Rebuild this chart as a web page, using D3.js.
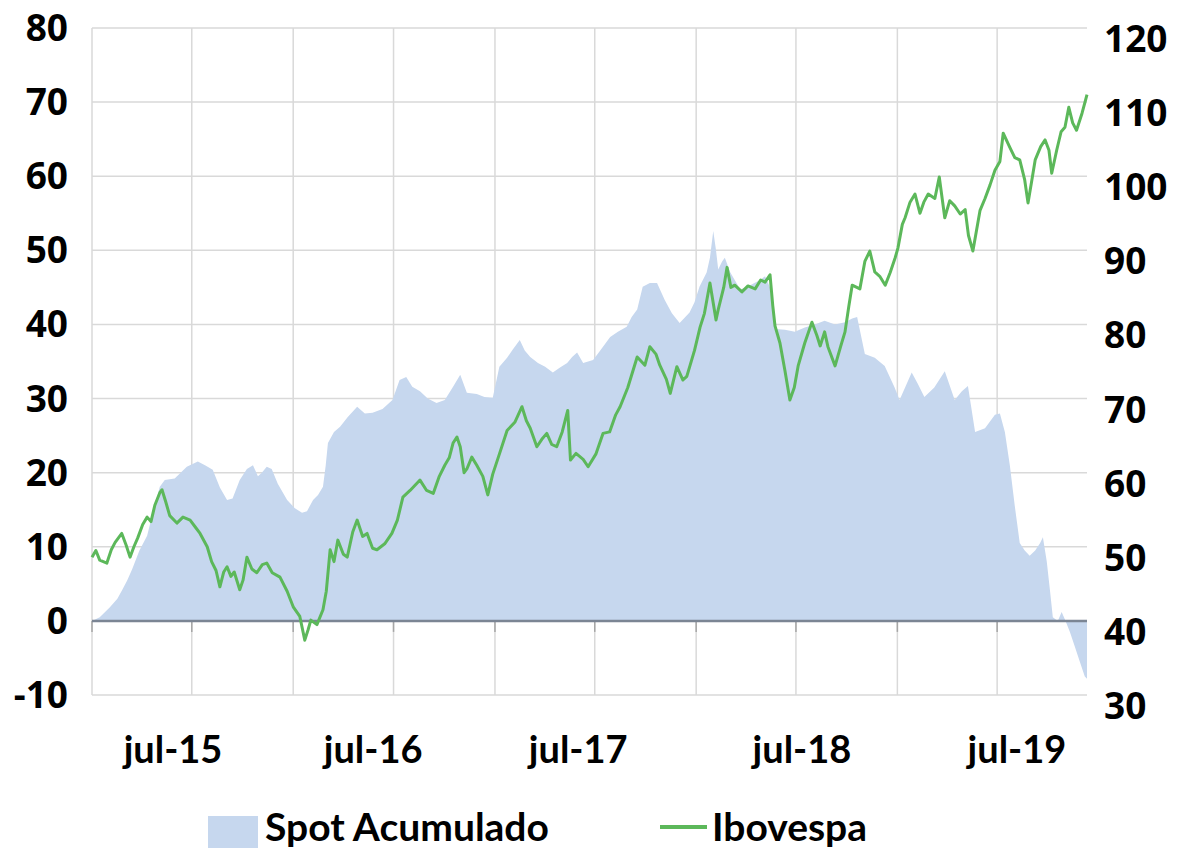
<!DOCTYPE html>
<html><head><meta charset="utf-8">
<script src="https://cdn.jsdelivr.net/npm/d3@7"></script>
<style>body{margin:0;background:#fff;} svg{display:block}</style>
</head><body><svg id="c" width="1178" height="853"></svg>
<script>
const seriesNames = ["Spot Acumulado", "Ibovespa"];
const leftTicks = [80, 70, 60, 50, 40, 30, 20, 10, 0, -10];
const rightTicks = [120, 110, 100, 90, 80, 70, 60, 50, 40, 30];
const xLabels = ["jul-15", "jul-16", "jul-17", "jul-18", "jul-19"];
const xLabelDates = ["2015-05-28", "2016-05-25", "2017-06-01", "2018-07-12", "2019-08-06"];

const iboDates = ["2015-01-01","2015-01-08","2015-01-15","2015-01-28","2015-02-05","2015-02-12","2015-02-24","2015-03-04","2015-03-11","2015-03-18","2015-03-25","2015-04-03","2015-04-11","2015-04-18","2015-04-25","2015-05-04","2015-05-08","2015-05-15","2015-05-22","2015-06-04","2015-06-15","2015-06-28","2015-07-08","2015-07-16","2015-07-29","2015-08-06","2015-08-14","2015-08-21","2015-08-28","2015-09-03","2015-09-10","2015-09-16","2015-09-26","2015-10-02","2015-10-09","2015-10-18","2015-10-27","2015-11-06","2015-11-14","2015-11-24","2015-12-08","2015-12-21",
"2016-01-01","2016-01-13","2016-01-22","2016-01-28","2016-02-02","2016-02-13","2016-02-24","2016-03-01","2016-03-08","2016-03-15","2016-03-22","2016-04-01","2016-04-08","2016-04-18","2016-04-26","2016-05-06","2016-05-14","2016-05-24","2016-06-01","2016-06-15","2016-06-28","2016-07-08","2016-07-18","2016-07-31","2016-08-18","2016-08-30","2016-09-11","2016-09-22","2016-10-02","2016-10-10","2016-10-17","2016-10-24","2016-10-30","2016-11-06","2016-11-11","2016-11-20","2016-11-29","2016-12-10","2016-12-19","2016-12-28",
"2017-01-09","2017-01-23","2017-02-06","2017-02-19","2017-02-27","2017-03-06","2017-03-18","2017-03-27","2017-04-05","2017-04-14","2017-04-23","2017-05-03","2017-05-13","2017-05-18","2017-05-28","2017-06-10","2017-06-19","2017-07-03","2017-07-16","2017-07-28","2017-08-08","2017-08-16","2017-08-30","2017-09-16","2017-09-30","2017-10-09","2017-10-20","2017-10-27","2017-11-08","2017-11-15","2017-11-27","2017-12-08","2017-12-15","2017-12-29",
"2018-01-08","2018-01-16","2018-01-26","2018-02-06","2018-02-10","2018-02-20","2018-02-26","2018-03-05","2018-03-12","2018-03-25","2018-04-05","2018-04-18","2018-04-28","2018-05-06","2018-05-15","2018-05-20","2018-05-24","2018-06-02","2018-06-11","2018-06-20","2018-06-28","2018-07-05","2018-07-17","2018-07-30","2018-08-08","2018-08-14","2018-08-22","2018-08-28","2018-09-10","2018-09-20","2018-09-28","2018-10-05","2018-10-11","2018-10-25","2018-11-03","2018-11-12","2018-11-21","2018-11-30","2018-12-10","2018-12-19","2018-12-28",
"2019-01-02","2019-01-10","2019-01-15","2019-01-24","2019-02-02","2019-02-11","2019-02-18","2019-02-26","2019-03-10","2019-03-18","2019-03-28","2019-04-06","2019-04-15","2019-04-25","2019-05-04","2019-05-10","2019-05-18","2019-05-31","2019-06-09","2019-06-18","2019-06-27","2019-07-06","2019-07-12","2019-07-24","2019-08-02","2019-08-11","2019-08-20","2019-08-26","2019-09-02","2019-09-08","2019-09-18","2019-09-26","2019-10-03","2019-10-08","2019-10-17","2019-10-25","2019-11-01","2019-11-08","2019-11-15","2019-11-22","2019-12-02","2019-12-07","2019-12-11"];
const iboValues = [48.6,49.5,48.2,47.8,49.6,50.6,51.8,50.2,48.6,50.0,51.2,53.0,54.0,53.4,55.6,57.3,57.7,56.0,54.2,53.2,54.0,53.6,52.6,51.8,50.0,48.0,46.8,44.6,46.6,47.3,46.0,46.6,44.2,45.5,48.6,47.0,46.5,47.6,47.8,46.5,45.9,44.0,
41.9,40.6,37.4,38.8,40.1,39.5,41.5,44.0,49.6,48.0,50.9,49.0,48.6,52.0,53.6,51.4,51.8,49.8,49.6,50.4,51.8,53.6,56.7,57.6,59.0,57.6,57.2,59.5,61.0,62.0,64.0,64.8,63.5,60.0,60.5,62.1,61.0,59.5,57.0,59.8,
62.5,65.7,66.8,68.9,67.0,66.0,63.5,64.5,65.3,63.8,63.5,65.5,68.4,61.7,62.6,61.8,60.8,62.5,65.3,65.5,67.8,68.9,71.5,75.6,74.5,77.0,76.0,74.5,72.6,70.7,74.3,72.5,73.0,76.5,
79.6,81.5,85.6,80.6,82.0,85.0,87.7,85.0,85.3,84.4,85.2,84.8,86.0,85.7,86.7,82.5,79.8,77.5,73.8,69.8,71.5,74.4,77.5,80.3,78.5,77.1,79.0,77.0,74.4,77.0,79.0,82.5,85.3,84.8,88.5,89.9,87.1,86.5,85.3,87.0,89.0,
90.3,93.5,94.4,96.5,97.6,95.0,96.5,97.6,97.0,99.9,94.4,96.7,96.0,94.9,95.5,92.0,89.9,95.4,97.0,98.8,100.8,102.0,105.8,103.9,102.5,102.2,99.5,96.4,99.5,102.2,104.0,104.9,103.5,100.4,103.5,106.0,106.6,109.3,107.2,106.2,108.5,109.9,111.0];

const spotDates = ["2015-01-01","2015-01-15","2015-02-02","2015-02-16","2015-02-25","2015-03-06","2015-03-15","2015-03-28","2015-04-11","2015-04-21","2015-05-04","2015-05-13","2015-05-31","2015-06-22","2015-07-12","2015-07-25","2015-08-08","2015-08-21","2015-09-03","2015-09-13","2015-09-26","2015-10-09","2015-10-20","2015-10-29","2015-11-05","2015-11-14","2015-11-23","2015-12-04","2015-12-21",
"2016-01-04","2016-01-17","2016-01-26","2016-02-06","2016-02-15","2016-02-24","2016-02-29","2016-03-04","2016-03-15","2016-03-26","2016-04-09","2016-04-26","2016-05-10","2016-05-24","2016-06-11","2016-06-29","2016-07-12","2016-07-24","2016-08-04","2016-08-18","2016-09-01","2016-09-17","2016-10-02","2016-10-17","2016-10-30","2016-11-11","2016-11-29","2016-12-13","2016-12-28",
"2017-01-09","2017-01-23","2017-02-02","2017-02-15","2017-02-24","2017-03-06","2017-03-20","2017-04-02","2017-04-16","2017-04-29","2017-05-12","2017-05-21","2017-05-30","2017-06-10","2017-06-28","2017-07-11","2017-07-29","2017-08-12","2017-08-28","2017-09-06","2017-09-16","2017-09-26","2017-10-09","2017-10-22","2017-11-05","2017-11-18","2017-12-02","2017-12-20","2017-12-29",
"2018-01-07","2018-01-20","2018-01-26","2018-02-01","2018-02-06","2018-02-10","2018-02-17","2018-02-22","2018-03-04","2018-03-22","2018-04-09","2018-04-27","2018-05-06","2018-05-15","2018-05-24","2018-06-11","2018-06-29","2018-07-17","2018-08-04","2018-08-22","2018-09-10","2018-09-28","2018-10-11","2018-10-20","2018-11-03","2018-11-21","2018-12-09","2018-12-27",
"2019-01-05","2019-01-27","2019-02-07","2019-02-19","2019-03-09","2019-03-28","2019-04-15","2019-04-28","2019-05-09","2019-05-22","2019-06-09","2019-06-27","2019-07-06","2019-07-15","2019-07-24","2019-08-02","2019-08-11","2019-08-20","2019-08-29","2019-09-08","2019-09-17","2019-09-22","2019-09-29","2019-10-05","2019-10-10","2019-10-19","2019-10-26","2019-11-01","2019-11-10","2019-11-19","2019-11-28","2019-12-07","2019-12-11"];
const spotValues = [0,0.5,1.8,3.0,4.2,5.5,7.0,9.5,11.5,14.5,18.1,19.0,19.2,20.8,21.5,21.0,20.4,18.0,16.3,16.5,19.0,20.5,21.0,19.5,20.0,20.8,20.5,18.5,16.3,
15.2,14.6,14.8,16.3,17.0,18.1,21.0,24.0,25.5,26.2,27.5,28.9,28.0,28.1,28.6,29.8,32.5,32.9,31.6,31.0,30.0,29.4,29.8,31.6,33.2,30.8,30.6,30.2,30.1,
34.3,35.5,36.6,37.9,36.5,35.6,34.8,34.3,33.5,34.2,34.8,35.6,36.2,34.8,35.2,36.5,38.3,39.0,39.7,41.0,42.0,45.1,45.6,45.6,43.3,41.5,40.2,41.6,43.0,
45.1,47.0,49.0,52.6,50.0,47.4,48.5,49.0,47.0,44.7,45.3,46.0,46.5,45.0,39.4,39.3,39.0,39.6,40.0,40.5,40.0,40.3,40.8,41.0,36.0,35.5,34.4,31.5,
29.8,33.5,32.0,30.2,31.5,33.7,29.8,31.0,31.7,25.5,26.0,27.8,28.0,25.5,21.0,15.5,10.5,9.5,8.8,9.5,10.5,11.3,8.0,4.0,0.5,0.0,1.2,0.2,-1.5,-3.5,-5.5,-7.5,-7.8];

const parse = d3.timeParse("%Y-%m-%d");
const ibo = iboDates.map((d, i) => ({ date: parse(d), value: iboValues[i] }));
const spot = spotDates.map((d, i) => ({ date: parse(d), value: spotValues[i] }));

const L = 92, R = 1087, T = 28, B = 695;
const svg = d3.select("#c");

const x = d3.scaleTime().domain([parse("2015-01-01"), parse("2019-12-11")]).range([L, R]);
const yL = d3.scaleLinear().domain([-10, 80]).range([B, T]);
const yR = d3.scaleLinear().domain([30, 120]).range([B, T]);

const gridColor = "#d9d9d9";
svg.append("g").selectAll("line").data(leftTicks).join("line")
  .attr("x1", L).attr("x2", R)
  .attr("y1", d => yL(d)).attr("y2", d => yL(d))
  .attr("stroke", gridColor).attr("stroke-width", 1.5);
const vTicks = d3.timeMonth.every(6).range(parse("2015-01-01"), parse("2019-12-01"));
svg.append("g").selectAll("line").data(vTicks).join("line")
  .attr("x1", d => x(d)).attr("x2", d => x(d))
  .attr("y1", T).attr("y2", B)
  .attr("stroke", gridColor).attr("stroke-width", 1.5);

const area = d3.area().x(d => x(d.date)).y0(yL(0)).y1(d => yL(d.value));
svg.append("path").datum(spot).attr("d", area).attr("fill", "#c6d7ee");

svg.append("g").selectAll("line").data(vTicks).join("line")
  .attr("x1", d => x(d)).attr("x2", d => x(d))
  .attr("y1", yL(0)).attr("y2", yL(0) + 11)
  .attr("stroke", "#a6a6a6").attr("stroke-width", 1.5);
svg.append("line").attr("x1", L).attr("x2", R).attr("y1", yL(0)).attr("y2", yL(0))
  .attr("stroke", "#7b8594").attr("stroke-width", 2.5);

const line = d3.line().x(d => x(d.date)).y(d => yR(d.value));
svg.append("path").datum(ibo).attr("d", line).attr("fill", "none")
  .attr("stroke", "#5cb85a").attr("stroke-width", 3).attr("stroke-linejoin", "round");

const numFont = "'Open Sans', 'DejaVu Sans', sans-serif";
svg.append("g").selectAll("text").data(leftTicks).join("text")
  .attr("x", 68).attr("y", d => yL(d)).attr("dy", "0.35em")
  .attr("text-anchor", "end").attr("font-family", numFont).attr("font-weight", 700)
  .attr("font-size", 37).attr("fill", "#000").text(d => d);
svg.append("g").selectAll("text").data(rightTicks).join("text")
  .attr("x", 1104).attr("y", d => yR(d) + 11).attr("dy", "0.35em")
  .attr("text-anchor", "start").attr("font-family", numFont).attr("font-weight", 700)
  .attr("font-size", 37).attr("fill", "#000").text(d => d);

const txtFont = "Lato, 'Liberation Sans Narrow', sans-serif";
svg.append("g").selectAll("text").data(xLabels).join("text")
  .attr("x", (d, i) => x(parse(xLabelDates[i]))).attr("y", 763)
  .attr("text-anchor", "middle").attr("font-family", txtFont).attr("font-weight", 700)
  .attr("font-size", 38).attr("fill", "#000").text(d => d);

const lg = svg.append("g");
lg.append("rect").attr("x", 208).attr("y", 816).attr("width", 50).attr("height", 32).attr("fill", "#c6d7ee");
lg.append("text").attr("x", 265).attr("y", 841).attr("font-family", txtFont).attr("font-weight", 700)
  .attr("font-size", 39).attr("fill", "#000").text(seriesNames[0]);
lg.append("line").attr("x1", 660).attr("x2", 707).attr("y1", 827).attr("y2", 827)
  .attr("stroke", "#5cb85a").attr("stroke-width", 4);
lg.append("text").attr("x", 712).attr("y", 841).attr("font-family", txtFont).attr("font-weight", 700)
  .attr("font-size", 39).attr("fill", "#000").text(seriesNames[1]);
</script></body></html>
